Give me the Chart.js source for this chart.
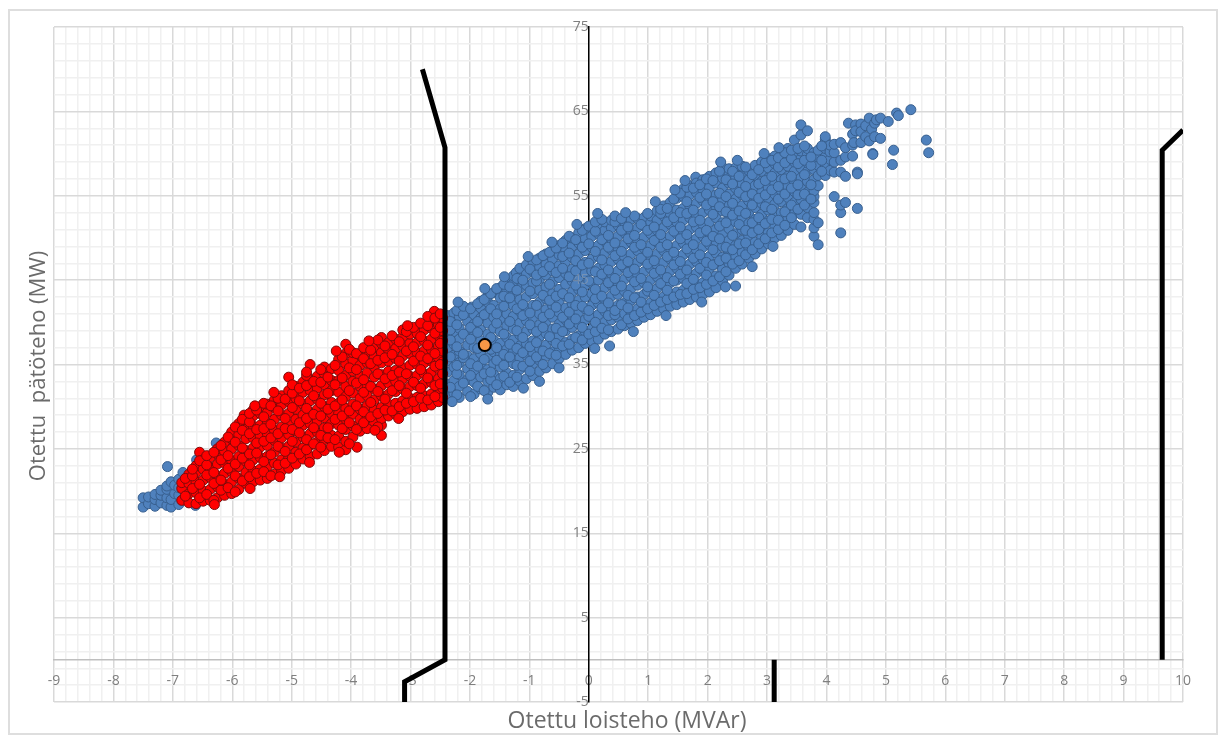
<!DOCTYPE html>
<html>
<head>
<meta charset="utf-8">
<title>Otettu teho</title>
<style>
  html, body { margin: 0; padding: 0; background: #fff; overflow: hidden; }
  #frame { position: absolute; left: 8px; top: 9px; width: 1210px; height: 726px; border: 2px solid #dedede; box-sizing: border-box; }
  #wrap { position: absolute; left: 0; top: 0; width: 1229px; height: 745px; }
</style>
</head>
<body>
<div id="frame"></div>
<div id="wrap"><canvas id="myChart" width="1229" height="745"></canvas></div>
<script src="https://cdn.jsdelivr.net/npm/chart.js@4"></script>
<script>
// axis titles
const xTitle = "Otettu loisteho (MVAr)";
const yTitle = "Otettu  pätöteho (MW)";

// measured points, every row is one x value and then the y values read at it
const blueColumns = [
  [-7.5, 18.1, 19.2], [-7.41, 18.5, 19.3], [-7.3, 18.2, 19, 19.6], [-7.2, 18.6, 19.5, 20.1],
  [-7.1, 18.3, 19.2, 20.2, 20.6], [-7.03, 18.1, 19, 21.1], [-6.97, 19.7, 20.7], [-6.9, 18.4, 19.5, 20.4, 21.4],
  [-7.09, 22.9], [-6.83, 22.2], [-6.27, 25.7], [-6.6, 23.7], [-6.45, 23.4], [-6.2, 25.1], [-6.05, 25.9], [-6.62, 18.3],

  [-2.38, 31.2, 32.7, 34.1, 35.4, 36.9, 38.2, 39.6, 40.8],
  [-2.27, 31.6, 33.1, 34.7, 36.1, 37.4, 38.9, 40.2, 41.1],
  [-2.18, 31.1, 32.4, 33.8, 35.2, 36.6, 38, 39.3, 40.7, 41.5],
  [-2.04, 31.8, 33.2, 34.5, 36, 37.3, 38.7, 40.1, 41.2],
  [-1.97, 41.8],
  [-1.93, 31.5, 32.9, 34.2, 35.7, 37, 38.4, 39.8, 40.9],
  [-1.82, 32.1, 33.5, 35, 36.3, 37.8, 39.1, 40.5, 41.7, 42.5],
  [-1.7, 31.7, 33, 34.4, 35.8, 37.2, 38.6, 39.9, 41.2, 42.4, 43.1],
  [-1.6, 32.3, 33.8, 35.1, 36.5, 37.9, 39.3, 40.6, 42, 43.5],
  [-1.49, 32, 33.3, 34.7, 36.2, 37.5, 38.9, 40.3, 41.6, 42.9, 44.1],
  [-1.38, 32.6, 34, 35.4, 36.8, 38.2, 39.6, 41, 42.3, 43.7, 44.9],
  [-1.27, 32.4, 33.7, 35.1, 36.5, 37.9, 39.2, 40.7, 42, 43.3, 44.6, 45.5],
  [-1.22, 45.9],
  [-1.16, 33, 34.4, 35.8, 37.2, 38.5, 39.9, 41.3, 42.7, 44, 45.3, 46.4],
  [-1.05, 33.3, 34.7, 36.1, 37.5, 38.9, 40.2, 41.6, 43, 44.4, 45.7, 46.8],
  [-0.94, 33.7, 35.1, 36.4, 37.8, 39.2, 40.6, 42, 43.4, 44.7, 46, 47.2],
  [-0.83, 33, 34.2, 35.5, 36.9, 38.3, 39.7, 41, 42.4, 43.8, 45.1, 46.5, 47.6],
  [-0.72, 34.6, 36, 37.3, 38.7, 40.1, 41.5, 42.8, 44.2, 45.6, 46.9, 48.1],
  [-0.61, 35.1, 36.5, 37.9, 39.2, 40.6, 42, 43.4, 44.8, 46.1, 47.5, 48.5],
  [-0.5, 35.7, 37, 38.4, 39.8, 41.2, 42.5, 43.9, 45.3, 46.7, 48, 49.1],
  [-0.39, 36.2, 37.6, 39, 40.3, 41.7, 43.1, 44.5, 45.8, 47.2, 48.6, 49.7],
  [-0.28, 36.7, 38, 39.4, 40.8, 42.2, 43.6, 44.9, 46.3, 47.7, 49, 50],
  [-0.17, 37, 38.4, 39.8, 41.2, 42.6, 43.9, 45.3, 46.7, 48.1, 49.4, 50.6],
  [-0.06, 37.5, 38.9, 40.3, 41.6, 43, 44.4, 45.8, 47.1, 48.5, 49.9, 51.1],
  [0.05, 37.8, 39.2, 40.6, 42, 43.4, 44.7, 46.1, 47.5, 48.9, 50.2, 51.3],
  [0.16, 38, 39.5, 40.9, 42.3, 43.6, 45, 46.4, 47.8, 49.1, 50.5, 51.6],
  [0.27, 38.6, 40, 41.3, 42.7, 44.1, 45.5, 46.8, 48.2, 49.6, 50.9, 51.9],
  [0.35, 37.2],
  [0.38, 38.9, 40.3, 41.7, 43.1, 44.4, 45.8, 47.2, 48.6, 49.9, 51.2, 52.1],
  [0.49, 39.2, 40.6, 42, 43.3, 44.7, 46.1, 47.5, 48.8, 50.2, 51.5],
  [0.6, 39.6, 41, 42.3, 43.7, 45.1, 46.5, 47.8, 49.2, 50.6, 51.9],
  [0.71, 39.9, 41.2, 42.6, 44, 45.4, 46.7, 48.1, 49.5, 50.8, 52.2],
  [0.82, 40.2, 41.6, 43, 44.4, 45.7, 47.1, 48.5, 49.8, 51.2, 52.3],
  [0.93, 40.6, 41.9, 43.3, 44.7, 46, 47.4, 48.8, 50.1, 51.4, 52.4],
  [1.04, 40.9, 42.3, 43.7, 45, 46.4, 47.8, 49.1, 50.5, 51.8, 52.6],
  [1.15, 41.3, 42.6, 44, 45.4, 46.8, 48.1, 49.5, 50.9, 52.1, 53.2],
  [1.26, 41.6, 43, 44.4, 45.8, 47.1, 48.5, 49.9, 51.2, 52.6, 53.8],
  [1.37, 41.9, 43.3, 44.7, 46.1, 47.5, 48.8, 50.2, 51.6, 52.9, 54.2],
  [1.48, 42.1, 43.6, 45, 46.4, 47.8, 49.1, 50.5, 51.9, 53.3, 54.7],
  [1.59, 42.4, 43.8, 45.2, 46.6, 48, 49.4, 50.8, 52.1, 53.5, 54.9, 55.8],
  [1.7, 42.7, 44.1, 45.5, 46.9, 48.3, 49.6, 51, 52.4, 53.8, 55.1, 56.2],
  [1.8, 57.2],
  [1.81, 43, 44.4, 45.8, 47.2, 48.6, 49.9, 51.3, 52.7, 54.1, 55.4, 56.5],
  [1.92, 43.3, 44.7, 46.1, 47.5, 48.9, 50.2, 51.6, 53, 54.4, 55.7, 56.9],
  [2.03, 43.6, 45, 46.4, 47.8, 49.2, 50.6, 51.9, 53.3, 54.7, 56, 57.3],
  [2.14, 44.1, 45.5, 46.9, 48.2, 49.6, 51, 52.4, 53.7, 55.1, 56.5, 57.7],
  [2.25, 44.9, 46.3, 47.7, 49, 50.4, 51.8, 53.2, 54.5, 55.9, 57.1, 58.4],
  [2.36, 45.6, 47, 48.3, 49.7, 51.1, 52.5, 53.8, 55.2, 56.5, 57.6, 58.2],
  [2.47, 44.3, 46.4, 47.7, 49.1, 50.5, 51.9, 53.2, 54.6, 55.9, 57.1, 58.3],
  [2.58, 46.9, 48.3, 49.7, 51, 52.4, 53.8, 55.1, 56.4, 57.6, 58.5],
  [2.69, 47.6, 48.9, 50.3, 51.7, 53, 54.4, 55.7, 56.9, 58],
  [2.8, 48.1, 49.5, 50.8, 52.2, 53.6, 54.9, 56.2, 57.4, 58.6],
  [2.91, 48.7, 50.1, 51.4, 52.8, 54.1, 55.4, 56.7, 57.9, 59],
  [3.02, 49.3, 50.6, 52, 53.3, 54.7, 55.9, 57.1, 58.3, 59.4],
  [3.13, 50, 51.3, 52.6, 54, 55.2, 56.5, 57.7, 58.8, 59.7],
  [3.24, 50.3, 51.7, 53, 54.3, 55.6, 56.9, 58.1, 59.1, 59.9],
  [3.35, 50.9, 52.2, 53.5, 54.8, 56.1, 57.3, 58.5, 59.5, 60.6],
  [3.46, 51.6, 52.9, 54.2, 55.5, 56.7, 57.9, 59, 60, 61.6],
  [3.57, 51.3, 52.8, 54.6, 55.9, 57.1, 58.3, 59.4, 60.3, 62.2, 63.4],
  [3.68, 52.4, 53.6, 55.4, 56.7, 57.9, 58.9, 59.9, 60.6, 62.7],
  [3.79, 50.2, 51.2, 52.2, 53, 54.2, 54.9, 55.6, 56.9, 58.1, 59.2, 60.1],
  [3.86, 49.2, 51.8, 56.2, 57.4, 58.6, 59.6, 60.4],
  [3.98, 57.4, 58.5, 59.6, 60.6, 61.7, 62],
  [4.06, 58, 59.3, 60.2, 61],
  [4.13, 54.9, 57.8, 59, 60.1, 61.1],
  [4.24, 50.6, 53, 53.9, 57.8, 59.2, 61.3],
  [4.32, 54.2, 57.3, 59.6, 60.7],
  [4.37, 63.6], [4.44, 59.7, 62.3, 61], [4.49, 63.4, 62.7], [4.46, 61.3],
  [4.52, 53.5, 57.8, 57.6], [4.58, 63.5, 62.6, 61.3],
  [4.66, 62, 63.3], [4.72, 61.5, 64.2], [4.76, 62.9], [4.78, 60, 59.9],
  [4.81, 62, 63.6], [4.84, 64], [4.91, 61.8, 64.2],
  [5.04, 63.8], [5.11, 58.7], [5.13, 60.4], [5.18, 64.8], [5.21, 64.5], [5.42, 65.2],
  [5.68, 61.6], [5.72, 60.1]
];

// more readings in the dense part, these lie on top
const blueDense = [
  [-2.33, 32.3, 35.9, 37.9, 39.1, 40.1], [-2.22, 31.4, 33.9, 34.9, 37.1, 39.7, 41.4], [-2.11, 32.8, 35.8, 36.2, 38.6, 40.9, 41.9],
  [-1.99, 31.2, 33.7, 35.1, 38, 39.4, 41.6], [-1.87, 32.4, 34.8, 36.9, 38.8, 40.1, 42.2], [-1.76, 31.9, 33.9, 35.6, 37.5, 40.9, 42.7],
  [-1.65, 33.2, 34.1, 36.8, 38.2, 41.6, 43.4], [-1.55, 32.6, 35.5, 37, 39.9, 41, 44], [-1.43, 33.6, 34.9, 36.2, 38.6, 41.9, 43.1, 44.5],
  [-1.33, 32.9, 35.9, 37.4, 40.1, 42.9, 44.2], [-1.21, 33.5, 34.9, 36.9, 39, 41.6, 43.8, 45.2], [-1.11, 34.8, 36.4, 38.2, 40.8, 42.1, 45],
  [-0.99, 34.2, 35.4, 37.1, 39.7, 41.1, 43.7, 46.3], [-0.88, 35.9, 37.6, 38.9, 42, 44.9, 45.6, 47.4], [-0.77, 35, 36.6, 39.4, 40.6, 43.2, 46, 47.9],
  [-0.66, 36.3, 38.3, 41, 42.6, 44.5, 46.6, 48.3], [-0.55, 36.1, 37.5, 39.3, 41.8, 43.1, 45.9, 48.8], [-0.44, 37.2, 38.9, 40.6, 43.4, 46.4, 47.8, 49.4],
  [-0.33, 37.4, 39.8, 41.2, 42.9, 45.4, 48.2, 50.2], [-0.22, 38.2, 40.4, 42, 44.4, 46.1, 47.3, 49.8], [-0.11, 37.9, 39.4, 41.9, 43.6, 46.8, 48.9, 50.9],
  [0, 38.6, 40.7, 41.4, 44.9, 47, 49.3, 51.4], [0.11, 38.9, 40, 42.8, 43.9, 46, 48.4, 50.8, 51.9], [0.22, 39.3, 41.7, 43.1, 45.7, 47.4, 49.8, 52.2],
  [0.33, 39.1, 40.8, 42.3, 44.7, 46.2, 48.9, 50.3], [0.44, 40.9, 41.4, 43.8, 45.2, 47.9, 49.4, 51.9, 52.6], [0.55, 39.7, 42.1, 44.3, 46.8, 48.4, 50.9, 52.3],
  [0.66, 40.4, 41.7, 43.2, 45.9, 47.2, 49.9, 51.3], [0.77, 40.8, 42.9, 44.8, 46.3, 48.9, 50.3, 52.6], [0.88, 41.2, 42.4, 45.2, 47.6, 49.2, 51.6],
  [0.99, 41.6, 43.7, 44.2, 46.9, 48.3, 50.9, 52.9], [1.1, 42, 43.2, 45.8, 47.3, 49.7, 51.3], [1.21, 42.4, 44.6, 46.2, 48.9, 50.4, 52.9, 53.4],
  [1.32, 42.7, 43.8, 45.3, 47.8, 49.2, 51.9, 53.5], [1.43, 43, 44.9, 46.8, 48.3, 50.8, 52.4, 54.6], [1.54, 43.3, 45.7, 47.2, 49.9, 51.3, 53, 55.3],
  [1.65, 43.4, 44.6, 46.2, 48.7, 50.4, 52.9, 54.3, 56], [1.76, 43.9, 45.1, 47.6, 49.2, 51.9, 53.3, 55.9], [1.87, 44.1, 46.4, 48, 50.6, 52.1, 54.8, 56.3],
  [1.98, 44.5, 45.6, 47.1, 49.6, 50.9, 53.9, 55.2, 57], [2.09, 44.9, 46.8, 48.6, 50.2, 52.8, 54.3, 56.8], [2.2, 45.4, 47.3, 49.9, 51.4, 53.7, 55.3, 57.9],
  [2.31, 46, 47.6, 48.9, 51.8, 53.1, 54.9, 56.9], [2.42, 46.9, 48.6, 50.3, 52.7, 54.1, 56.4, 57.9], [2.53, 47.3, 49.3, 51.6, 53.2, 55.4, 57.3],
  [2.64, 48, 49.4, 50.9, 52.9, 54.9, 56.1, 58.4], [2.75, 48.6, 50.6, 51.8, 53.9, 55.2, 57.5], [2.86, 49.3, 51, 52.4, 54.7, 56.4, 58.1],
  [2.97, 49.9, 51.7, 53.7, 55.1, 56.8, 58.9], [3.08, 50.6, 52.2, 53.4, 55.7, 57.3, 59.2], [3.19, 51, 52.1, 54.6, 56.1, 58.4, 59.5],
  [3.3, 51.5, 53.1, 55.2, 57, 58.9, 60.1], [3.41, 52.4, 53.9, 55.9, 57.3, 59.4, 60.4], [3.52, 53.4, 55.1, 56.3, 58.8, 60.6],
  [3.63, 53.9, 55.2, 57.5, 59.2, 60.9], [3.74, 54.6, 56.3, 58.6, 59.6], [3.92, 57.9, 59.2, 60.9],
  // stray points along the edges of the cloud
  [-2.2, 42.4], [-1.75, 44], [-1.42, 45.4], [-1.02, 47.8], [-0.62, 49.5], [-0.2, 51.6], [0.15, 52.9], [0.62, 53], [1.12, 54.3], [1.45, 55.7],
  [1.62, 56.8], [2.22, 59], [2.5, 59.2], [2.95, 60], [3.2, 60.7], [-2.3, 30.6], [-1.7, 30.9], [-1.1, 32.2], [-0.5, 34.6], [0.1, 36.9],
  [0.75, 38.9], [1.3, 40.8], [1.9, 42.4], [2.3, 44.2], [2.75, 46.6], [3.1, 49]
];

const redColumns = [
  [-6.85, 18.9, 20.3, 21],
  [-6.73, 18.6, 19.7, 20.9, 22],
  [-6.61, 18.5, 19.8, 21.1, 22.2, 23],
  [-6.55, 24.6],
  [-6.49, 18.8, 20, 21.3, 22.6, 23.7],
  [-6.37, 18.9, 20.2, 21.6, 22.8, 24],
  [-6.25, 19.2, 20.5, 21.8, 23.2, 24.4, 25],
  [-6.13, 19.5, 20.8, 22.1, 23.3, 24.7, 25.8],
  [-6.01, 19.7, 21.1, 22.3, 23.6, 25, 26.2, 27],
  [-5.89, 20.2, 21.5, 22.9, 24.1, 25.4, 26.7, 28],
  [-5.8, 29],
  [-5.77, 20.9, 22.2, 23.5, 24.8, 26.2, 27.4, 28.5],
  [-5.65, 21.1, 22.4, 23.7, 25.1, 26.3, 27.7, 28.9, 29.6],
  [-5.53, 21.3, 22.6, 24, 25.2, 26.5, 27.8, 29.2, 30],
  [-5.41, 21.5, 22.9, 24.1, 25.4, 26.8, 28, 29.3, 30.3],
  [-5.29, 22, 23.3, 24.6, 26, 27.2, 28.5, 29.9, 30.8],
  [-5.17, 22.4, 23.7, 25.1, 26.3, 27.6, 29, 30.2, 31.3],
  [-5.05, 22.7, 24, 25.3, 26.7, 27.9, 29.2, 30.6, 31.9, 33.5],
  [-4.93, 23.2, 24.6, 25.8, 27.1, 28.5, 29.7, 31, 32.4],
  [-4.81, 23.8, 25.1, 26.4, 27.8, 29, 30.3, 31.7, 32.9],
  [-4.69, 24.1, 25.4, 26.8, 28, 29.3, 30.7, 31.9, 33.2, 35],
  [-4.57, 24.4, 25.8, 27, 28.3, 29.7, 30.9, 32.2, 33.6],
  [-4.45, 24.8, 26.1, 27.5, 28.7, 30, 31.4, 32.6, 33.9, 34.7],
  [-4.33, 25.3, 26.6, 28, 29.2, 30.5, 31.9, 33.1, 34.5],
  [-4.21, 25.2, 26.5, 27.8, 29.2, 30.4, 31.7, 33.1, 34.3, 35.6],
  [-4.09, 24.9, 25.9, 27.3, 28.5, 29.8, 31.2, 32.4, 33.7, 35.1, 36.3, 37.4],
  [-3.97, 26.4, 27.7, 29.1, 30.3, 31.6, 33, 34.2, 35.5, 36.4],
  [-3.9, 25.2],
  [-3.85, 27.1, 28.5, 29.7, 31, 32.4, 33.6, 34.9, 36.1],
  [-3.73, 27.4, 28.7, 30.1, 31.3, 32.6, 34, 35.2, 36.5],
  [-3.61, 28.2, 29.6, 30.8, 32.1, 33.5, 34.7, 36, 37],
  [-3.49, 26.6, 27.8, 28.6, 29.9, 31.3, 32.5, 33.8, 35.2, 36.4, 37.5, 38.2],
  [-3.37, 28.9, 30.3, 31.5, 32.8, 34.2, 35.4, 36.7, 37.6],
  [-3.25, 29.1, 30.4, 31.8, 33, 34.3, 35.7, 36.9, 38],
  [-3.13, 29.4, 30.7, 32.1, 33.3, 34.6, 36, 37.2, 38.3, 39.1],
  [-3.01, 29.7, 31, 32.4, 33.6, 34.9, 36.3, 37.5, 38.6],
  [-2.89, 29.8, 31.1, 32.5, 33.7, 35, 36.4, 37.6, 38.7],
  [-2.77, 30, 31.3, 32.7, 33.9, 35.2, 36.6, 37.8, 39.1],
  [-2.65, 30.2, 31.5, 32.9, 34.1, 35.4, 36.8, 38, 39.3, 40.2],
  [-2.6, 41.3],
  [-2.53, 30.6, 31.9, 33.3, 34.5, 35.8, 37.2, 38.4, 39.7, 40.6],
  [-2.46, 31.1, 32.2, 33.9, 35.3, 36.6, 37.8, 39, 40.5]
];

const redDense = [
  [-6.79, 19.4, 21.5], [-6.67, 20.3, 21.8, 22.6], [-6.55, 19.2, 20.8, 23.6], [-6.43, 19.6, 21.9, 23.1, 24.2], [-6.31, 18.9, 20.9, 22.2, 24.6],
  [-6.19, 20.1, 21.3, 23.7, 25.4], [-6.07, 20.4, 22.7, 24.2, 26.4], [-5.95, 19.9, 21.8, 23.2, 25.8, 27.6], [-5.83, 21.2, 23.9, 25.1, 27.2, 28.5],
  [-5.71, 21.7, 23.1, 24.4, 26.8, 28.2, 29.2], [-5.59, 22.1, 24.5, 25.7, 27.3, 29.6], [-5.47, 22.3, 23.5, 25.9, 27.4, 28.8, 30.4], [-5.35, 21.8, 24.3, 26.3, 27.9, 30.1],
  [-5.23, 23.1, 25.3, 26.8, 29.5, 31], [-5.11, 23.3, 24.7, 27.4, 28.6, 30.9], [-4.99, 23.9, 25.9, 27.3, 29.9, 31.6, 32.6], [-4.87, 24.4, 26.9, 28.1, 30.7, 32.2],
  [-4.75, 24.9, 26.1, 28.6, 29.8, 32.5, 33.7], [-4.63, 25.6, 27.5, 29.1, 31.3, 33], [-4.51, 25.2, 26.6, 28.9, 30.4, 32.9, 34.4], [-4.39, 26.3, 27.5, 29.7, 31.6, 33.5],
  [-4.27, 26.1, 28.5, 30.1, 32.6, 34.9], [-4.15, 27.4, 28.9, 30.8, 33.4, 35.9], [-4.03, 25.6, 28.1, 29.5, 31.9, 34.6, 36.8], [-3.91, 27.3, 30.1, 32.8, 34.4, 36.3],
  [-3.79, 28.1, 29.4, 31.7, 33.2, 35.7, 37], [-3.67, 28.8, 30.5, 32.4, 35.1, 36.7], [-3.55, 27.6, 29.2, 31.8, 33.9, 35.5, 37.9], [-3.43, 29.6, 30.9, 33.3, 35.8, 37.2],
  [-3.31, 29.5, 31.9, 33.7, 36.2, 38.4], [-3.19, 30, 32.5, 34.1, 35.4, 37.7], [-3.07, 30.4, 31.6, 33.9, 36.6, 38.9], [-2.95, 30.6, 32.9, 35.4, 37.1, 39.4],
  [-2.83, 31, 32.2, 34.4, 36, 38.3, 39.9], [-2.71, 30.8, 33.4, 35.7, 37.3, 39.6, 40.7], [-2.59, 31.2, 32.5, 34.8, 36.3, 38.7, 40.5], [-2.5, 32.7, 35, 37.5, 39.4, 41],
  // stray points along the edges of the cloud
  [-5.62, 30.1], [-5.3, 31.7], [-4.75, 34.1], [-4.25, 36.6], [-3.7, 37.8], [-3.05, 39.6], [-6.3, 18.4], [-5.7, 20.3], [-5.2, 21.7], [-4.7, 23.4], [-4.2, 24.6], [-3.6, 27.2], [-3.2, 28.6]
];

// the single orange point
const markedPoint = [{x: -1.75, y: 37.3}];

// black limit curves
const limitLeft = [{x: -2.8, y: 70}, {x: -2.42, y: 60.7}, {x: -2.42, y: 0}, {x: -3.1, y: -2.6}, {x: -3.1, y: -5}];
const limitMiddle = [{x: 3.12, y: 0}, {x: 3.12, y: -5}];
const limitRight = [{x: 9.65, y: 0}, {x: 9.65, y: 60.4}, {x: 10, y: 62.8}];

// turn the rows into points
function toPoints(columns) {
  return columns.flatMap(col => col.slice(1).map(y => ({x: col[0], y: y})));
}

function limitLine(points) {
  return {
    type: 'scatter',
    data: points,
    showLine: true,
    borderColor: '#000',
    borderWidth: 5,
    pointRadius: 0,
    order: 2
  };
}

// axis titles are placed by hand, the axes cross inside the plot
const axisTitles = {
  id: 'axisTitles',
  afterDraw(chart) {
    const c = chart.ctx;
    c.save();
    c.fillStyle = '#6b6b6b';
    c.textAlign = 'center';
    c.textBaseline = 'middle';
    c.font = '23px "Open Sans"';
    c.fillText(xTitle, 627, 721);
    c.font = '22px "Open Sans"';
    c.translate(39, 366);
    c.rotate(-Math.PI / 2);
    c.fillText(yTitle, 0, 0);
    c.restore();
  }
};

const myChart = document.getElementById('myChart');

new Chart(myChart, {
  type: 'scatter',
  data: {
    datasets: [
      {
        data: toPoints(blueColumns).concat(toPoints(blueDense)),
        backgroundColor: '#4f81bd',
        borderColor: '#385f8e',
        borderWidth: 1,
        pointRadius: 5,
        order: 4
      },
      {
        data: toPoints(redColumns).concat(toPoints(redDense)),
        backgroundColor: '#ff0000',
        borderColor: '#7d0a0a',
        borderWidth: 1,
        pointRadius: 5,
        order: 3
      },
      limitLine(limitLeft),
      limitLine(limitMiddle),
      limitLine(limitRight),
      {
        data: markedPoint,
        backgroundColor: '#f79646',
        borderColor: '#000',
        borderWidth: 2,
        pointRadius: 6,
        order: 1
      }
    ]
  },
  options: {
    responsive: false,
    animation: false,
    layout: { padding: { left: 54, top: 27, right: 46, bottom: 43 } },
    plugins: { legend: { display: false }, tooltip: { enabled: false } },
    scales: {
      x: {
        type: 'linear',
        min: -9,
        max: 10,
        position: { y: 0 },
        grid: {
          drawTicks: false,
          color: ctx => isWhole(ctx.tick.value) ? '#d9d9d9' : '#f0f0f0',
          lineWidth: 1.5
        },
        border: { color: '#bfbfbf', width: 1.5 },
        ticks: {
          stepSize: 0.2,
          autoSkip: false,
          maxRotation: 0,
          padding: 13,
          color: '#7f7f7f',
          font: { family: 'Open Sans', size: 14 },
          callback: v => isWhole(v) ? String(Math.round(v)) : ''
        }
      },
      y: {
        type: 'linear',
        min: -5,
        max: 75,
        position: { x: 0 },
        grid: {
          drawTicks: false,
          color: ctx => isMajorY(ctx.tick.value) ? '#d9d9d9' : '#f0f0f0',
          lineWidth: 1.5
        },
        border: { color: '#000', width: 1.5 },
        ticks: {
          stepSize: 2,
          autoSkip: false,
          padding: 14,
          z: 1,
          // the 45 label shows only faintly through the points
          color: ctx => ctx.tick.value === 45 ? 'rgba(150,160,175,0.55)' : '#7f7f7f',
          font: { family: 'Open Sans', size: 14 },
          callback: v => isMajorY(v) ? String(v) : ''
        }
      }
    }
  },
  plugins: [axisTitles]
});

function isWhole(v) {
  return Math.abs(v - Math.round(v)) < 0.001;
}

function isMajorY(v) {
  return Math.round(v + 5) % 10 === 0;
}
</script>
</body>
</html>
